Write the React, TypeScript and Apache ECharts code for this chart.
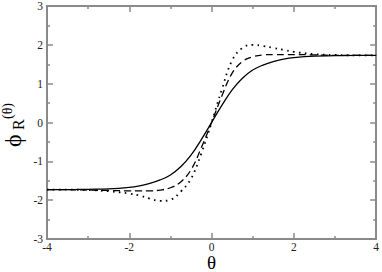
import React, { useEffect, useRef } from "react";
import * as echarts from "echarts";

const theta = [-4, -3.5, -3, -2.5, -2, -1.75, -1.5, -1.25, -1, -0.75, -0.5, -0.25, 0, 0.25, 0.5, 0.75, 1, 1.25, 1.5, 1.75, 2, 2.5, 3, 3.5, 4];
const solid = [-1.73, -1.73, -1.72, -1.71, -1.67, -1.63, -1.57, -1.48, -1.35, -1.14, -0.84, -0.44, 0, 0.44, 0.84, 1.14, 1.35, 1.48, 1.57, 1.63, 1.67, 1.71, 1.72, 1.73, 1.73];
const dashed = [-1.73, -1.73, -1.74, -1.75, -1.76, -1.76, -1.76, -1.74, -1.68, -1.53, -1.22, -0.65, 0, 0.68, 1.27, 1.57, 1.69, 1.74, 1.75, 1.75, 1.75, 1.74, 1.73, 1.73, 1.73];
const dotted = [-1.73, -1.73, -1.74, -1.77, -1.83, -1.88, -1.96, -2.02, -1.99, -1.78, -1.45, -0.8, 0, 0.85, 1.6, 1.92, 2.0, 1.97, 1.92, 1.87, 1.82, 1.76, 1.74, 1.73, 1.73];

const xTicks = [-4, -2, 0, 2, 4];
const yTicks = [-3, -2, -1, 0, 1, 2, 3];

const FONT = "Liberation Serif";

export default function App() {
  const ref = useRef<HTMLDivElement>(null);
  useEffect(() => {
    if (!ref.current) return;
    const chart = echarts.init(ref.current, undefined, { renderer: "svg" });
    const axisLine = { show: true, onZero: false, lineStyle: { color: "#8a8a8a", width: 2 } };
    const axisTick = { show: true, inside: true, length: 6, lineStyle: { color: "#8a8a8a", width: 1.5 } };
    const minorTick = { show: true, splitNumber: 2, length: 3, lineStyle: { color: "#8a8a8a", width: 1.5 } };
    const labelStyle = { fontFamily: FONT, fontSize: 11.5, color: "#222", margin: 2 };
    const mk = (data: number[]) => theta.map((t, i) => [t, data[i]]);
    chart.setOption({
      animation: false,
      backgroundColor: "#fff",
      grid: { left: 47, right: 5, top: 5, bottom: 33, containLabel: false },
      xAxis: [
        {
          type: "value", min: xTicks[0], max: xTicks[xTicks.length - 1], interval: 2, position: "bottom",
          axisLine, axisTick, minorTick, splitLine: { show: false },
          axisLabel: { ...labelStyle },
        },
        {
          type: "value", min: -4, max: 4, interval: 2, position: "top",
          axisLine, axisTick, minorTick, splitLine: { show: false }, axisLabel: { show: false },
        },
      ],
      yAxis: [
        {
          type: "value", min: yTicks[0], max: yTicks[yTicks.length - 1], interval: 1, position: "left",
          axisLine, axisTick, minorTick, splitLine: { show: false },
          axisLabel: { ...labelStyle, margin: 4 },
        },
        {
          type: "value", min: -3, max: 3, interval: 1, position: "right",
          axisLine, axisTick, minorTick, splitLine: { show: false }, axisLabel: { show: false },
        },
      ],
      series: [
        { type: "line", data: mk(solid), smooth: 0.4, symbol: "none", lineStyle: { color: "#000", width: 1.3 } },
        { type: "line", data: mk(dashed), smooth: 0.4, symbol: "none", lineStyle: { color: "#000", width: 1.3, type: [7, 4] } },
        { type: "line", data: mk(dotted), smooth: 0.4, symbol: "none", lineStyle: { color: "#000", width: 1.8, type: [1.6, 4.4] } },
      ],
      graphic: [
        {
          type: "text", x: 211.5, y: 262.5,
          style: { text: "θ", fontFamily: FONT, fontSize: 19, fill: "#000", align: "center", verticalAlign: "middle" },
        },
        {
          type: "group", x: 13, y: 147, rotation: Math.PI / 2,
          children: [
            { type: "text", x: 0, y: 0, style: { text: "ϕ", fontFamily: FONT, fontSize: 24, fill: "#000", verticalAlign: "middle", align: "left" } },
            { type: "text", x: 17, y: 5, style: { text: "R", fontFamily: FONT, fontSize: 16, fill: "#000", verticalAlign: "middle", align: "left" } },
            { type: "text", x: 28, y: -6, style: { text: "(θ)", fontFamily: FONT, fontSize: 14, fill: "#000", verticalAlign: "middle", align: "left" } },
          ],
        },
      ],
    });
    return () => chart.dispose();
  }, []);
  return <div ref={ref} style={{ position: "fixed", left: 0, top: 0, width: 382, height: 272 }} />;
}
